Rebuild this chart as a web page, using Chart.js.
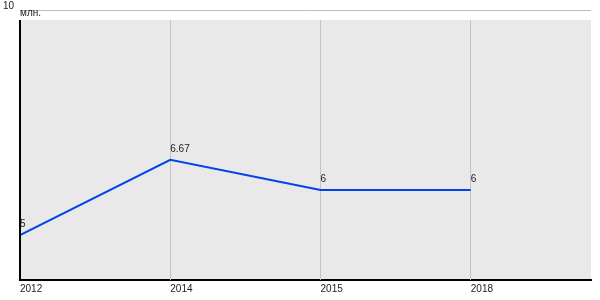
<!DOCTYPE html>
<html>
<head>
<meta charset="utf-8">
<script src="https://cdn.jsdelivr.net/npm/chart.js@4"></script>
<style>
  html, body { margin: 0; padding: 0; background: #fff; }
  #wrap { width: 600px; height: 300px; }
</style>
</head>
<body>
<div id="wrap"><canvas id="chart"></canvas></div>
<script>
// chart data
const years = ['2012', '2014', '2015', '2018'];
const values = [5, 6.67, 6, 6];
const valueLabels = ['5', '6.67', '6', '6'];
const yMin = 4;
const yMax = 10;
const xMax = 3.8;
const unitLabel = 'млн.';

Chart.defaults.font.family = 'Arial, "Liberation Sans", sans-serif';
Chart.defaults.font.size = 10;
Chart.defaults.color = '#222';

// grey plot background + vertical grid start a bit below the top line, like the original
const plotBackground = {
    id: 'plotBackground',
    beforeDraw(chart) {
        const { ctx, chartArea: a } = chart;
        ctx.save();
        ctx.fillStyle = '#e9e9e9';
        ctx.fillRect(a.left, a.top + 10, a.right - a.left, a.bottom - a.top - 10);
        ctx.restore();
    },
    beforeDatasetsDraw(chart) {
        const { ctx, scales, chartArea: a } = chart;
        ctx.save();
        ctx.strokeStyle = '#c4c4c4';
        ctx.lineWidth = 1;
        years.forEach((y, i) => {
            if (i === 0) return;
            const x = Math.floor(scales.x.getPixelForValue(i)) + 0.5;
            ctx.beginPath();
            ctx.moveTo(x, a.top + 10);
            ctx.lineTo(x, a.bottom);
            ctx.stroke();
        });
        ctx.restore();
    }
};

const textLabels = {
    id: 'textLabels',
    afterDatasetsDraw(chart) {
        const { ctx, scales, chartArea: a } = chart;
        ctx.save();
        // left axis line
        ctx.strokeStyle = '#000';
        ctx.lineWidth = 2;
        ctx.beginPath();
        ctx.moveTo(a.left, a.top + 10);
        ctx.lineTo(a.left, a.bottom);
        ctx.stroke();

        ctx.font = '10px Arial, "Liberation Sans", sans-serif';
        ctx.fillStyle = '#222';
        ctx.textAlign = 'left';
        ctx.textBaseline = 'alphabetic';
        // point value labels
        values.forEach((v, i) => {
            const x = scales.x.getPixelForValue(i);
            const y = scales.y.getPixelForValue(v);
            ctx.fillText(valueLabels[i], x, y - 8);
        });
        // top y tick and unit
        const yTop = scales.y.getPixelForValue(yMax);
        ctx.fillText(String(yMax), 3, yTop - 1);
        ctx.fillText(unitLabel, scales.x.left, yTop + 6);
        ctx.restore();
    }
};

new Chart(document.getElementById('chart').getContext('2d'), {
    type: 'line',
    data: {
        datasets: [{
            data: values.map((v, i) => ({ x: i, y: v })),
            borderColor: '#0044e8',
            borderWidth: 2,
            pointRadius: 0,
            tension: 0,
            fill: false
        }]
    },
    options: {
        responsive: true,
        maintainAspectRatio: false,
        animation: false,
        layout: {
            padding: { top: 10, right: 9, left: 0, bottom: 0 }
        },
        plugins: {
            legend: { display: false },
            tooltip: { enabled: false }
        },
        scales: {
            x: {
                type: 'linear',
                min: 0,
                max: xMax,
                afterBuildTicks(scale) {
                    scale.ticks = years.map((y, i) => ({ value: i }));
                },
                afterFit(scale) {
                    scale.height = 20;
                },
                ticks: {
                    align: 'start',
                    padding: 3,
                    maxRotation: 0,
                    callback: (v) => years[v],
                    font: { size: 10 },
                    color: '#222'
                },
                grid: { display: false, drawTicks: false },
                border: { display: true, color: '#000', width: 2 }
            },
            y: {
                min: yMin,
                max: yMax,
                afterBuildTicks(scale) {
                    scale.ticks = [{ value: yMax }];
                },
                afterFit(scale) {
                    scale.width = 20;
                },
                ticks: { display: false },
                grid: {
                    color: '#bdbdbd',
                    lineWidth: 1,
                    drawTicks: false
                },
                border: { display: false }
            }
        }
    },
    plugins: [plotBackground, textLabels]
});
</script>
</body>
</html>
